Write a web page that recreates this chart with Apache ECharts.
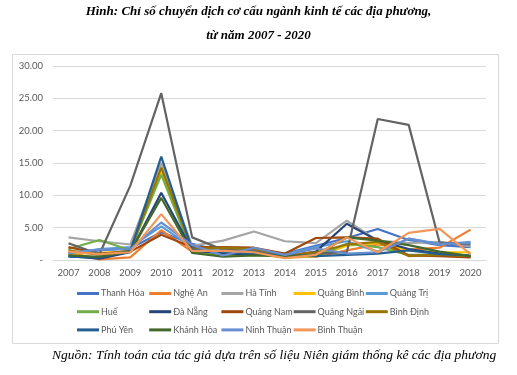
<!DOCTYPE html>
<html>
<head>
<meta charset="utf-8">
<script src="https://cdn.jsdelivr.net/npm/echarts@6/dist/echarts.min.js"></script>
<style>html,body{margin:0;padding:0;background:#fff;}#c{width:517px;height:375px;}</style>
</head>
<body>
<div id="c"></div>
<script>
const years = ['2007','2008','2009','2010','2011','2012','2013','2014','2015','2016','2017','2018','2019','2020'];
const yTicks = [0,5,10,15,20,25,30];
const names = ['Thanh Hóa','Nghệ An','Hà Tĩnh','Quảng Bình','Quảng Trị','Huế','Đà Nẵng','Quảng Nam','Quảng Ngãi','Bình Định','Phú Yên','Khánh Hòa','Ninh Thuận','Bình Thuận'];
const colors = ['#4472C4','#ED7D31','#A5A5A5','#FFC000','#5B9BD5','#70AD47','#264478','#9E480E','#636363','#997300','#255E91','#43682B','#698ED0','#F1975A'];

const thanhHoa  = [0.9,1.5,1.8,4.3,2.5,1.3,1.5,1.0,2.2,3.4,4.8,3.1,2.3,2.0];
const ngheAn    = [1.2,0.1,0.4,4.6,1.3,1.3,1.0,0.4,0.5,1.5,2.4,1.6,1.9,4.7];
const haTinh    = [3.5,2.9,2.4,15.0,2.2,3.0,4.4,2.9,2.6,6.1,3.0,2.6,2.8,2.1];
const quangBinh = [1.0,1.1,1.3,13.8,1.4,1.2,0.9,0.4,0.5,2.2,2.6,1.5,1.2,1.2];
const quangTri  = [1.0,1.7,2.0,5.2,2.0,1.5,1.7,0.9,2.0,2.9,1.3,3.3,2.4,2.8];
const hue       = [1.7,3.1,1.5,13.2,1.2,0.6,0.8,0.5,0.6,2.5,2.0,0.8,0.8,0.5];
const daNang    = [0.6,0.2,1.2,10.4,1.5,1.0,0.9,0.6,1.3,5.6,3.0,1.7,1.0,0.5];
const quangNam  = [2.0,1.0,1.3,3.9,2.0,2.0,1.9,1.0,3.4,3.5,3.3,0.7,0.6,0.4];
const quangNgai = [2.6,0.9,11.5,25.8,3.5,1.6,1.3,0.8,1.0,1.2,21.8,20.9,2.7,2.4];
const binhDinh  = [1.5,0.8,1.5,14.3,1.7,1.9,1.7,0.8,1.2,2.4,2.8,0.6,0.8,0.6];
const phuYen    = [0.5,0.4,1.4,16.0,1.6,1.2,1.0,0.7,0.6,0.8,1.0,1.5,0.9,0.7];
const khanhHoa  = [0.7,0.5,1.3,9.6,1.1,0.5,0.7,0.6,0.8,3.5,3.0,2.3,1.3,0.6];
const ninhThuan = [1.1,1.6,1.7,5.8,2.3,0.7,1.9,0.8,1.8,1.0,1.2,3.3,2.5,2.6];
const binhThuan = [1.3,0.9,1.2,7.1,1.4,1.4,1.2,0.3,0.8,3.5,1.2,4.2,4.8,0.9];

const values = [thanhHoa,ngheAn,haTinh,quangBinh,quangTri,hue,daNang,quangNam,quangNgai,binhDinh,phuYen,khanhHoa,ninhThuan,binhThuan];

const chart = echarts.init(document.getElementById('c'), null, {renderer:'canvas'});
const font = 'Lato, "Open Sans", sans-serif';

const legends = names.map((n,i)=>({
  data:[n],
  left: 77 + (i%5)*72.2,
  top: 289 + Math.floor(i/5)*18.2,
  icon:'rect', itemWidth:22, itemHeight:3, itemGap:0,
  padding:0,
  textStyle:{color:'#595959', fontSize:9, fontFamily:font, padding:[0,0,0,-3]},
  selectedMode:false
}));

chart.setOption({
  animation:false,
  color: colors,
  graphic:[
    {type:'rect', shape:{x:12.5,y:54.5,width:486,height:289}, style:{fill:'#fff', stroke:'#d9d9d9', lineWidth:1}, z:-10},
    {type:'text', left:'center', top:5, style:{text:'Hình: Chỉ số chuyển dịch cơ cấu ngành kinh tế các địa phương,', font:'italic bold 13px "Liberation Serif", serif', fill:'#000'}},
    {type:'text', left:'center', top:29, style:{text:'từ năm 2007 - 2020', font:'italic bold 13px "Liberation Serif", serif', fill:'#000'}},
    {type:'text', left:52, top:348, style:{text:'Nguồn: Tính toán của tác giả dựa trên số liệu Niên giám thống kê các địa phương', font:'italic 13.5px "Liberation Serif", serif', fill:'#000'}}
  ],
  legend: legends,
  grid:{left:53, right:31, top:66, bottom:115, containLabel:false},
  xAxis:{
    type:'category', data:years, boundaryGap:true,
    axisLine:{lineStyle:{color:'#d9d9d9'}}, axisTick:{show:false},
    axisLabel:{color:'#595959', fontSize:9.5, fontFamily:font, margin:8}
  },
  yAxis:{
    type:'value', min:0, max:30, interval:5,
    axisLine:{show:false}, axisTick:{show:false},
    splitLine:{lineStyle:{color:'#d9d9d9'}},
    axisLabel:{color:'#595959', fontSize:9.5, fontFamily:font, margin:10,
      formatter:v=> v===0 ? '-' : v.toFixed(2)}
  },
  series: names.map((n,i)=>({
    name:n, type:'line', data:values[i], showSymbol:false, symbol:'none',
    lineStyle:{width:2.2, color:colors[i]}, itemStyle:{color:colors[i]}
  }))
});
</script>
</body>
</html>
